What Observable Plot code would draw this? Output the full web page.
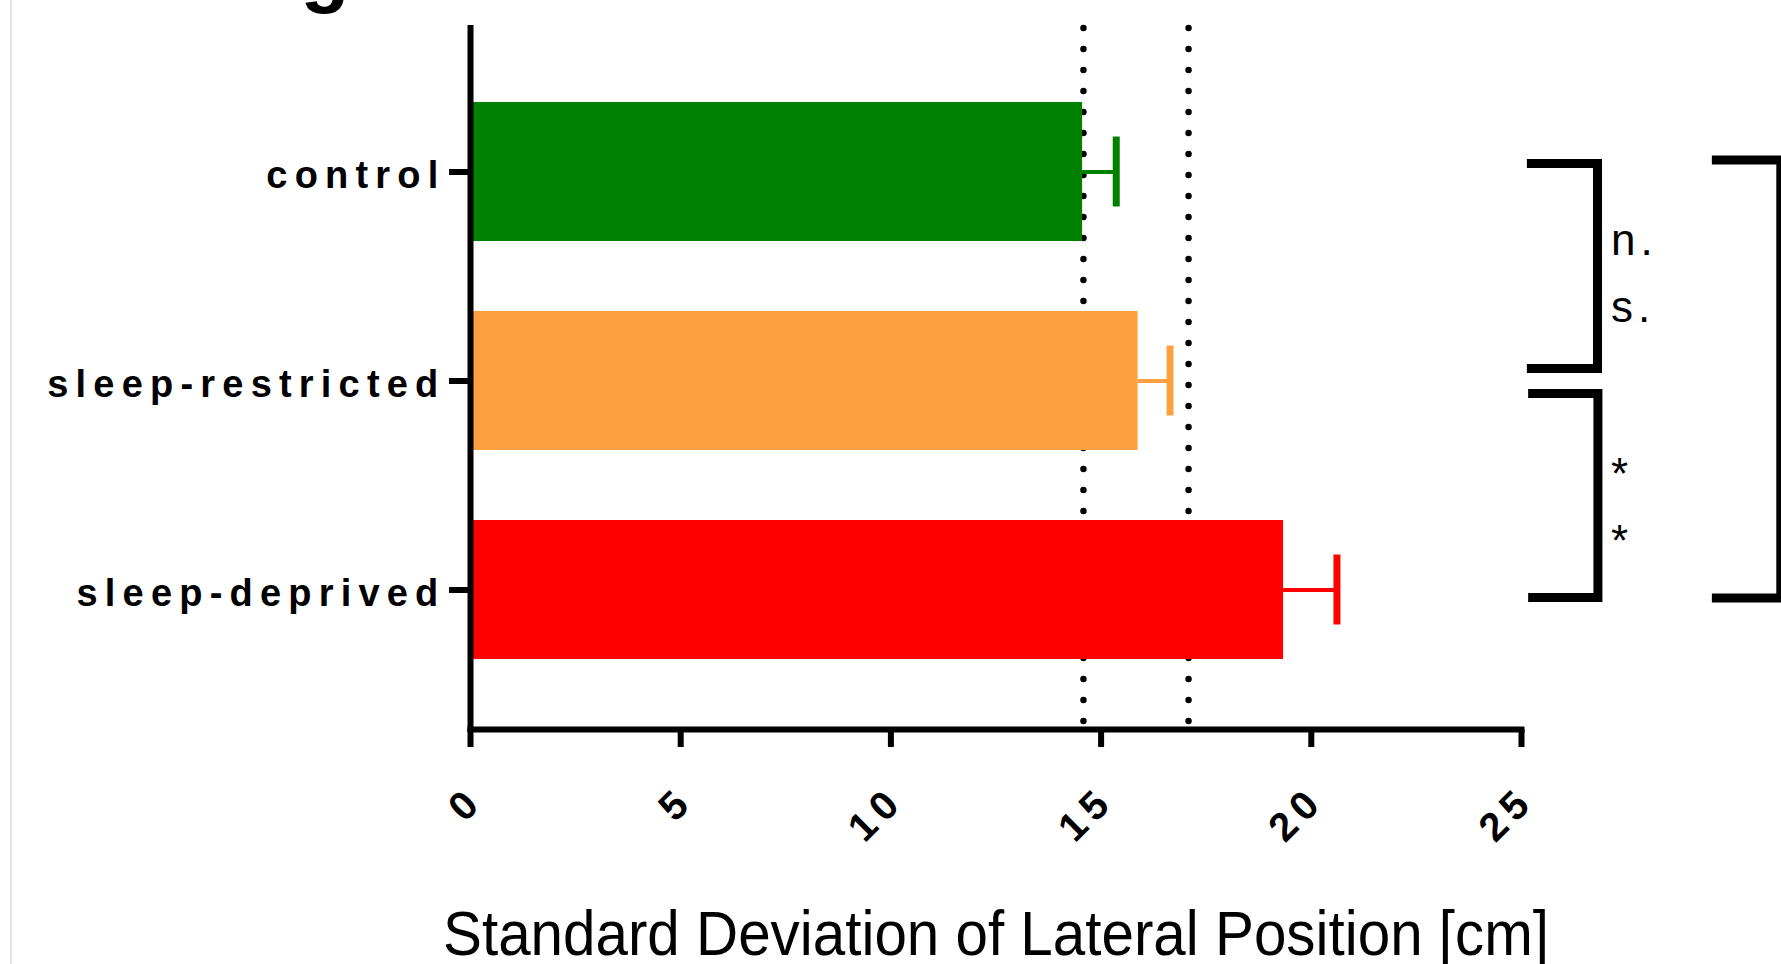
<!DOCTYPE html>
<html>
<head>
<meta charset="utf-8">
<script src="https://cdn.jsdelivr.net/npm/d3@7"></script>
<script src="https://cdn.jsdelivr.net/npm/@observablehq/plot@0.6"></script>
<style>
html, body { margin: 0; padding: 0; background: #fff; overflow: hidden; }
#wrap { position: relative; width: 1781px; height: 964px; overflow: hidden; background: #fff; }
#wrap svg { position: absolute; left: 0; top: 0; max-width: none !important; font-family: "Liberation Sans", Arial, sans-serif; }
#border { position: absolute; left: 10px; top: 0; width: 2px; height: 964px; background: #e2e2e2; z-index: 2; }
</style>
</head>
<body>
<div id="wrap"><div id="border"></div></div>
<script>
// ---- data ----
const groups = ["control", "sleep-restricted", "sleep-deprived"];
const means = [14.56, 15.88, 19.34];
const sems = [0.80, 0.76, 1.27];
const colors = ["#008000", "#ffa040", "#ff0000"];
const referenceLines = [14.58, 17.08];
const xTicks = [0, 5, 10, 15, 20, 25];
const xLabel = "Standard Deviation of Lateral Position [cm]";
const panelLabel = "g";
const comparisonFrom = ["control", "sleep-restricted", "control"];
const comparisonTo = ["sleep-restricted", "sleep-deprived", "sleep-deprived"];
const comparisonLabels = [["n.", "s."], ["*", "*"], []];

const data = groups.map((g, i) => ({group: g, mean: means[i], sem: sems[i], color: colors[i]}));

// ---- bracket layout (annotation placement) ----
const bracketLayout = [
  {x1: 25.14, xv: 26.82, top: -8, bottom: -12, textX: 27.14, textTop: 91},
  {x1: 25.17, xv: 26.83, top: 13, bottom: 8, textX: 27.14, textTop: 95},
  {x1: 29.54, xv: 31.18, top: -11.5, bottom: 8.5, textX: 31.5, textTop: 95}
];

function brackets(index, scales) {
  const {x, y} = scales;
  const bw = y.bandwidth ? y.bandwidth() : 0;
  const c = (g) => y(g) + bw / 2;
  const g = d3.create("svg:g").attr("aria-label", "significance");
  bracketLayout.forEach((b, i) => {
    const yt = c(comparisonFrom[i]) + b.top;
    const yb = c(comparisonTo[i]) + b.bottom;
    const x1 = x(b.x1), xv = x(b.xv);
    g.append("path")
      .attr("d", `M${x1},${yt}H${xv}V${yb}H${x1}`)
      .attr("fill", "none")
      .attr("stroke", "#000")
      .attr("stroke-width", 9)
      .attr("stroke-linejoin", "miter");
    comparisonLabels[i].forEach((t, j) => {
      g.append("text")
        .attr("x", x(b.textX))
        .attr("y", yt + b.textTop + j * 67)
        .attr("text-anchor", "start")
        .attr("font-size", 44)
        .attr("font-weight", "normal")
        .attr("fill", "#000")
        .style("letter-spacing", "5px")
        .text(t);
    });
  });
  return g.node();
}

const plot = Plot.plot({
  width: 1781,
  height: 964,
  marginLeft: 470,
  marginRight: 260,
  marginTop: 28,
  marginBottom: 235,
  style: {background: "#fff", fontFamily: "'Liberation Sans', Arial, sans-serif", color: "#000"},
  x: {domain: [0, 25], axis: null, label: null},
  y: {domain: groups, paddingInner: 0.337, paddingOuter: 0.3455, align: 0.51, axis: null, label: null},
  marks: [
    Plot.ruleX(referenceLines, {x: d => d, stroke: "#000", strokeWidth: 6.5, strokeDasharray: "0 21", strokeLinecap: "round"}),
    Plot.barX(data, {x: "mean", y: "group", fill: d => d.color}),
    Plot.ruleY(data, {y: "group", x1: "mean", x2: d => d.mean + d.sem, stroke: d => d.color, strokeWidth: 4}),
    Plot.tickX(data, {x: d => d.mean + d.sem, y: "group", stroke: d => d.color, strokeWidth: 7, insetTop: 34.5, insetBottom: 34.5}),
    Plot.ruleX([0], {stroke: "#000", strokeWidth: 6, strokeLinecap: "square"}),
    Plot.frame({anchor: "bottom", stroke: "#000", strokeWidth: 6, strokeLinecap: "square"}),
    Plot.axisX({ticks: xTicks, tickSize: 18, strokeWidth: 6, fill: "none", stroke: "#000", label: null}),
    Plot.text(xTicks, {x: d => d, text: d => String(d), frameAnchor: "bottom", dx: 15, dy: 73, rotate: -45,
      textAnchor: "end", lineAnchor: "bottom", fontSize: 40, fontWeight: "bold", fill: "#000"}),
    Plot.axisY({tickSize: 21, strokeWidth: 6, fill: "none", stroke: "#000", label: null}),
    Plot.axisY({tickSize: 0, tickPadding: 25, dy: 4, fontSize: 38, fontWeight: "bold", fill: "#000", label: null}),
    Plot.text([xLabel], {text: d => d, frameAnchor: "bottom", dy: 225, lineAnchor: "bottom", fontSize: 63, fill: "#000"}),
    Plot.text([panelLabel], {text: d => d, frameAnchor: "top-left", dx: -170, dy: -32, lineAnchor: "bottom", textAnchor: "start", fontSize: 80, fontWeight: "bold", fill: "#000"}),
    brackets
  ]
});

// letter spacing and condensed title (typographic styling)
const tickStrings = xTicks.map(String);
plot.querySelectorAll("text").forEach(t => {
  const s = t.textContent;
  if (groups.includes(s)) t.style.letterSpacing = "7.2px";
  else if (tickStrings.includes(s) && (t.getAttribute("transform") || "").includes("rotate")) t.style.letterSpacing = "7px";
  else if (s === xLabel) { t.setAttribute("textLength", 1106); t.setAttribute("lengthAdjust", "spacingAndGlyphs"); }
});

document.getElementById("wrap").appendChild(plot);
</script>
</body>
</html>
